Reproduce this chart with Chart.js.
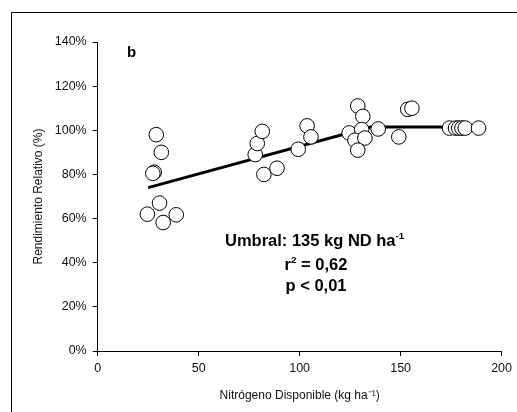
<!DOCTYPE html>
<html>
<head>
<meta charset="utf-8">
<script src="https://cdn.jsdelivr.net/npm/chart.js@4/dist/chart.umd.min.js"></script>
<style>
  html, body { margin: 0; padding: 0; background: #fff; }
  #wrap { width: 517px; height: 412px; position: relative; }
</style>
</head>
<body>
<div id="wrap"><canvas id="myChart"></canvas></div>
<script>
// observed points: available N (kg/ha) vs relative yield (%)
const nitrogen = [29, 31.5, 28, 27.3, 30.6, 24.6, 32.4, 38.9,
  78, 79, 81.5, 82.3, 88.8, 99.3, 103.7, 105.6,
  124.5, 128.8, 131.3, 130.7, 127.4, 132.3, 128.8, 138.9,
  149.1, 153.5, 155.6, 174.2, 177.2, 178.8, 180.4, 182, 188.6];
const yieldRel = [98, 90, 81, 80.5, 67, 62, 58.2, 61.7,
  89, 94, 99.5, 80, 82.8, 91.4, 102, 97,
  98.8, 111, 106.3, 100.3, 95.5, 96.5, 91, 100.6,
  97, 109.5, 110, 101, 101, 101, 101, 101, 101];

// linear-plateau fit
const fitX = [25, 135, 175];
const fitY = [74, 101.5, 101.5];

const xTicks = [0, 50, 100, 150, 200];
const yTicks = [0, 20, 40, 60, 80, 100, 120, 140];

const font = "'Liberation Sans', Arial, sans-serif";

// text with a superscript piece, drawn left to right
function drawSup(ctx, parts, x, y, size, align) {
  let total = 0;
  parts.forEach(p => {
    ctx.font = "bold " + (p.sup ? size * 0.6 : size) + "px " + font;
    total += ctx.measureText(p.t).width;
  });
  let cx = align === "center" ? x - total / 2 : x;
  parts.forEach(p => {
    const s = p.sup ? size * 0.6 : size;
    ctx.font = "bold " + s + "px " + font;
    ctx.fillText(p.t, cx, p.sup ? y - size * 0.42 : y);
    cx += ctx.measureText(p.t).width;
  });
}

const extras = {
  id: "extras",
  afterDraw(chart) {
    const ctx = chart.ctx;
    ctx.save();
    // frame (only left and top are visible in the crop)
    ctx.strokeStyle = "#000";
    ctx.lineWidth = 1;
    ctx.beginPath();
    ctx.moveTo(11.5, 412);
    ctx.lineTo(11.5, 12.5);
    ctx.lineTo(517, 12.5);
    ctx.stroke();

    ctx.fillStyle = "#000";
    ctx.textBaseline = "alphabetic";
    ctx.textAlign = "left";
    ctx.font = "bold 15px " + font;
    ctx.fillText("b", 127, 57);

    drawSup(ctx, [{ t: "Umbral: 135 kg ND ha" }, { t: "-1", sup: true }], 225, 246, 16.5, "left");
    drawSup(ctx, [{ t: "r" }, { t: "2", sup: true }, { t: " = 0,62" }], 316, 270, 16.5, "center");
    drawSup(ctx, [{ t: "p < 0,01" }], 316, 291, 16.5, "center");
    ctx.restore();
  }
};

new Chart(document.getElementById("myChart"), {
  type: "scatter",
  data: {
    datasets: [
      {
        label: "observado",
        data: nitrogen.map((x, i) => ({ x: x, y: yieldRel[i] })),
        pointRadius: 7.3,
        pointBackgroundColor: "#fff",
        pointBorderColor: "#000",
        pointBorderWidth: 1,
        order: 1
      },
      {
        label: "ajuste",
        type: "line",
        data: fitX.map((x, i) => ({ x: x, y: fitY[i] })),
        borderColor: "#000",
        borderWidth: 3,
        pointRadius: 0,
        fill: false,
        order: 2
      }
    ]
  },
  options: {
    responsive: true,
    maintainAspectRatio: false,
    animation: false,
    layout: { padding: { left: 27, top: 42, right: 11, bottom: 0 } },
    plugins: {
      legend: { display: false },
      tooltip: { enabled: false }
    },
    scales: {
      x: {
        type: "linear",
        min: 0,
        max: 200,
        afterBuildTicks: s => { s.ticks = xTicks.map(v => ({ value: v })); },
        afterFit: s => { s.height = 61; },
        grid: { display: true, drawOnChartArea: false, drawTicks: true, tickLength: 5, tickColor: "#000" },
        border: { color: "#000", width: 1 },
        ticks: { color: "#111", font: { family: font, size: 12.5 }, padding: 5, maxRotation: 0 },
        title: {
          display: true,
          text: "Nitrógeno Disponible (kg ha⁻¹)",
          color: "#111",
          font: { family: font, size: 12 },
          padding: { top: 4, bottom: 9 }
        }
      },
      y: {
        min: 0,
        max: 140,
        afterBuildTicks: s => { s.ticks = yTicks.map(v => ({ value: v })); },
        afterFit: s => { s.width = 70.7; },
        grid: { display: true, drawOnChartArea: false, drawTicks: true, tickLength: 5, tickColor: "#000" },
        border: { color: "#000", width: 1 },
        ticks: { color: "#111", font: { family: font, size: 12.5 }, padding: 6, callback: v => v + "%" },
        title: {
          display: true,
          text: "Rendimiento Relativo (%)",
          color: "#111",
          font: { family: font, size: 12 },
          padding: { top: 4, bottom: 0 }
        }
      }
    }
  },
  plugins: [extras]
});
</script>
</body>
</html>
